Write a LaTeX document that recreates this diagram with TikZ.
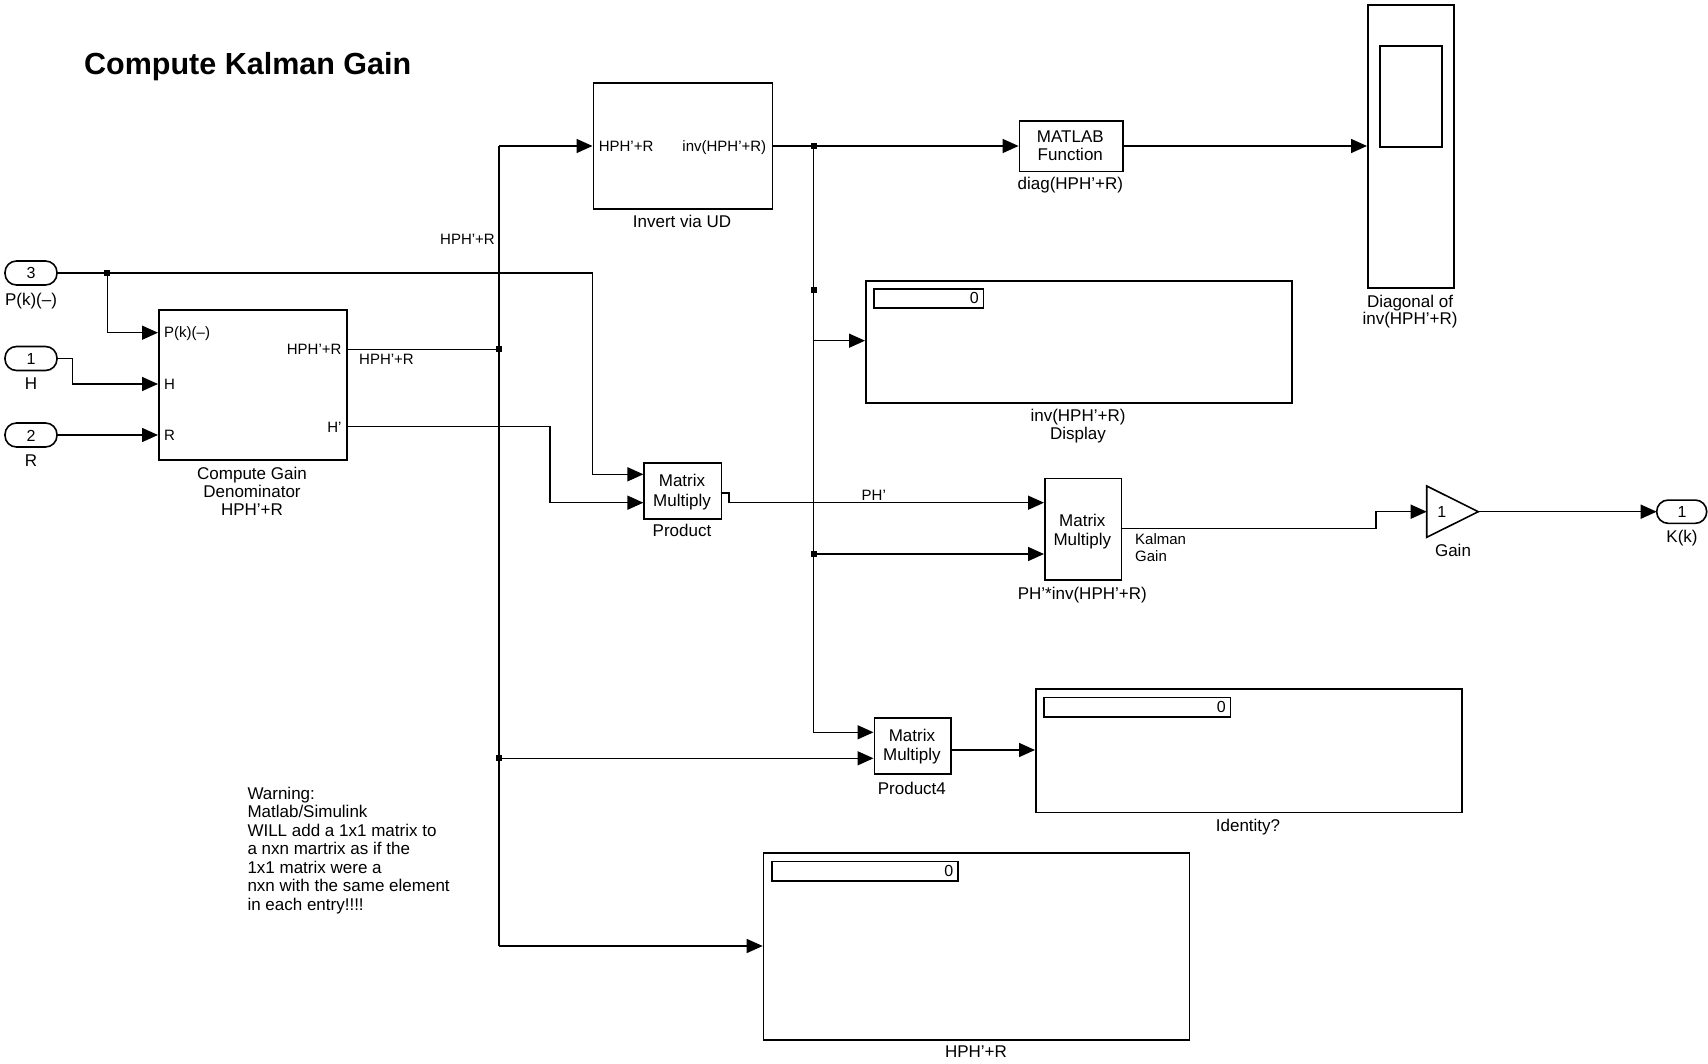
\documentclass[tikz,border=0pt]{standalone}
\usepackage{fontspec}
\setmainfont{Liberation Sans}
\usetikzlibrary{arrows.meta}
\begin{document}
\begin{tikzpicture}[x=1pt,y=-1pt,
  blk/.style={draw, line width=1.6pt, inner sep=0pt, anchor=north west},
  lab/.style={inner sep=0pt, anchor=base, font=\fontsize{17}{19}\selectfont},
  plab/.style={inner sep=0pt, font=\fontsize{15}{17}\selectfont},
  wire/.style={line width=1.5pt},
  arr/.style={line width=1.5pt, -{Triangle[length=16pt,width=14pt]}},
  jdot/.style={fill, rectangle, minimum size=6pt, inner sep=0pt},
  port/.style={draw, line width=1.6pt, rounded corners=11.5pt, inner sep=0pt, minimum width=52pt, minimum height=24pt},
  dig/.style={inner sep=0pt, anchor=base, font=\fontsize{16}{18}\selectfont}]
\useasboundingbox (0,0) rectangle (1708,1064);
\fill[white] (0,0) rectangle (1708,1064);

% title
\node[inner sep=0pt, anchor=base west, font=\bfseries\fontsize{30.5}{34}\selectfont] (title) at (84,75) {Compute Kalman Gain};

% inports
\node[port] (in3) at (31,273) {};
\node[dig] (in3n) at (31,279) {3};
\node[lab] (in3l) at (31,305.5) {P(k)(--)};
\node[port] (in1) at (31,358.5) {};
\node[dig] (in1n) at (31,364.5) {1};
\node[lab] (in1l) at (31,390) {H};
\node[port] (in2) at (31,435) {};
\node[dig] (in2n) at (31,441) {2};
\node[lab] (in2l) at (31,466) {R};

% compute gain denominator
\node[blk, minimum width=188pt, minimum height=150pt] (cgd) at (158,309) {};
\node[plab, anchor=base west] (cgdp1) at (164,338) {P(k)(--)};
\node[plab, anchor=base west] (cgdp2) at (164,389.4) {H};
\node[plab, anchor=base west] (cgdp3) at (164,440.4) {R};
\node[plab, anchor=base east] (cgdo1) at (341.7,354.6) {HPH’+R};
\node[plab, anchor=base east] (cgdo2) at (341.7,432) {H’};
\node[lab] (cgdl1) at (252,479) {Compute Gain};
\node[lab] (cgdl2) at (252,497) {Denominator};
\node[lab] (cgdl3) at (252,515) {HPH’+R};

% invert via UD
\node[blk, minimum width=179.3pt, minimum height=126pt] (inv) at (592.5,82.3) {};
\node[plab, anchor=base west] (invi) at (598.6,151.4) {HPH’+R};
\node[plab, anchor=base east] (invo) at (766.4,151.4) {inv(HPH’+R)};
\node[lab] (invl) at (682,227.7) {Invert via UD};

% MATLAB function
\node[blk, minimum width=103.5pt, minimum height=50.7pt] (mf) at (1018.6,120) {};
\node[lab] (mf1) at (1070.3,142.7) {MATLAB};
\node[lab] (mf2) at (1070.3,161) {Function};
\node[lab] (mfl) at (1070.3,190) {diag(HPH’+R)};

% scope
\node[blk, minimum width=86pt, minimum height=283pt] (sc) at (1367,4) {};
\node[blk, minimum width=62pt, minimum height=101pt] (scin) at (1379,45) {};
\node[lab] (scl1) at (1410,307.7) {Diagonal of};
\node[lab] (scl2) at (1410,324.3) {inv(HPH’+R)};

% inv display
\node[blk, minimum width=426pt, minimum height=122pt] (idisp) at (865,280) {};
\node[blk, minimum width=109.2pt, minimum height=19pt] (idf) at (873.3,288.3) {};
\node[dig, anchor=base east] (idf0) at (979,304) {0};
\node[lab] (idl1) at (1078,421) {inv(HPH’+R)};
\node[lab] (idl2) at (1078,439.6) {Display};

% product
\node[blk, minimum width=77.3pt, minimum height=56.3pt] (prod) at (643.4,462) {};
\node[lab] (prod1) at (682,486.7) {Matrix};
\node[lab] (prod2) at (682,506) {Multiply};
\node[lab] (prodl) at (682,536.7) {Product};

% PH'*inv
\node[blk, minimum width=76.6pt, minimum height=101.6pt] (phi) at (1044,477.7) {};
\node[lab] (phi1) at (1082.3,526) {Matrix};
\node[lab] (phi2) at (1082.3,545) {Multiply};
\node[lab] (phil) at (1082.3,599.3) {PH’*inv(HPH’+R)};

% gain
\coordinate (gin) at (1426.7,511.7);
\coordinate (gout) at (1478.3,511.7);
\draw[line width=1.6pt, line join=miter] (1426.7,486) -- (gout) -- (1426.7,537.3) -- cycle;
\node[dig] (g1) at (1441.7,517.7) {1};
\node[lab] (gl) at (1453,556) {Gain};

% outport
\node[port, minimum width=50pt, minimum height=23.3pt] (outk) at (1681.7,511.7) {};
\node[dig] (outn) at (1682,517.7) {1};
\node[lab] (outl) at (1682,542.7) {K(k)};

% product4
\node[blk, minimum width=76.7pt, minimum height=56pt] (p4) at (873.5,717.3) {};
\node[lab] (p41) at (911.9,741) {Matrix};
\node[lab] (p42) at (911.9,760) {Multiply};
\node[lab] (p4l) at (911.9,794) {Product4};

% identity display
\node[blk, minimum width=426pt, minimum height=123.3pt] (iden) at (1035,688.4) {};
\node[blk, minimum width=186.5pt, minimum height=19.3pt] (idenf) at (1043.3,696.7) {};
\node[dig, anchor=base east] (idenf0) at (1226,712.3) {0};
\node[lab] (idenl) at (1248,831) {Identity?};

% HPH'+R display
\node[blk, minimum width=426pt, minimum height=187pt] (hd) at (762.7,852.3) {};
\node[blk, minimum width=186.3pt, minimum height=19.3pt] (hdf) at (771,860.7) {};
\node[dig, anchor=base east] (hdf0) at (953.5,876.3) {0};
\node[lab] (hdl) at (976,1057.7) {HPH’+R};

% warning
\foreach \t [count=\i from 0] in {Warning:,Matlab/Simulink,WILL add a 1x1 matrix to,a nxn martrix as if the,1x1 matrix were a,nxn with the same element,in each entry!!!!}
  \node[lab, anchor=base west] (w\i) at (247.3,799.4+18.45*\i) {\t};

% coordinates
\coordinate (j1) at (107.3,273);
\coordinate (j2) at (499,349.3);
\coordinate (j3) at (499,758.3);
\coordinate (j4) at (813.7,146);
\coordinate (j5) at (813.7,290);
\coordinate (j6) at (813.7,554);
\coordinate (b1) at (499,146);
\coordinate (b2) at (499,946);

% wires
\draw[arr] (57,273) -- (592.5,273) -- (592.5,474.3) -- (643.4,474.3);
\draw[arr] (j1) -- (107.3,332.7) -- (158,332.7);
\draw[arr] (57,358.5) -- (72.7,358.5) -- (72.7,384) -- (158,384);
\draw[arr] (57,435) -- (158,435);
\draw[wire] (346,349.3) -- (j2);
\node[plab, anchor=base west] (sig1) at (359,364.5) {HPH’+R};
\draw[wire] (b1) -- (b2);
\node[plab, anchor=base east] (sig2) at (495,244.5) {HPH’+R};
\draw[arr] (b1) -- (592.5,146);
\draw[arr] (b2) -- (762.7,946);
\draw[arr] (j3) -- (873.5,758.3);
\draw[arr] (346,426.7) -- (550,426.7) -- (550,502.7) -- (643.4,502.7);
\draw[wire] (771.8,146) -- (j4);
\draw[arr] (j4) -- (1018.6,146);
\draw[arr] (j4) -- (813.7,732.3) -- (873.5,732.3);
\draw[arr] (813.7,340.7) -- (865,340.7);
\draw[arr] (j6) -- (1044,554);
\draw[arr] (720.7,493) -- (728.8,493) -- (728.8,502.7) -- (1044,502.7);
\node[plab, anchor=base] (sig3) at (873.8,500) {PH’};
\draw[arr] (1120.6,528.5) -- (1376,528.5) -- (1376,511.7) -- (gin);
\node[plab, anchor=base west] (sig4) at (1135,544.7) {Kalman};
\node[plab, anchor=base west] (sig5) at (1135,561.4) {Gain};
\draw[arr] (gout) -- (1656.7,511.7);
\draw[arr] (1122.1,146) -- (1367,146);
\draw[arr] (950.2,750) -- (1035,750);

% junction dots
\foreach \j in {j1,j2,j3,j4,j5,j6}
  \node[jdot] (d\j) at (\j) {};
\end{tikzpicture}
\end{document}
